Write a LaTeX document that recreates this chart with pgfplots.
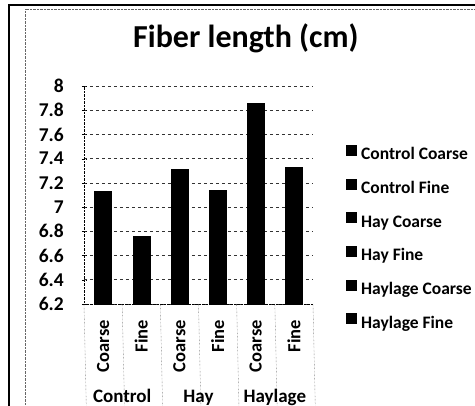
\documentclass[border=0pt]{standalone}
\usepackage{pgfplots}
\pgfplotsset{compat=1.18}
\usepackage{fontspec}
\setmainfont{Carlito}
\begin{document}
\begin{tikzpicture}
\useasboundingbox (0,0) rectangle (475pt,406pt);
\begin{axis}[
  at={(84pt,102pt)}, anchor=south west,
  scale only axis, width=229pt, height=218pt,
  ybar, bar width=17pt, bar shift=0pt,
  xmin=-0.5, xmax=5.5, ymin=6.2, ymax=8,
  clip=false,
  axis x line*=bottom, axis y line*=left,
  axis line style={densely dotted, black, -},
  xtick={0,1,2,3,4,5},
  xticklabels={Coarse,Fine,Coarse,Fine,Coarse,Fine},
  major x tick style={draw=none},
  xticklabel style={font=\bfseries\fontsize{18.5}{20}\selectfont, rotate=90, anchor=east, inner sep=0pt},
  xticklabel shift=14pt,
  ytick={6.2,6.4,6.6,6.8,7,7.2,7.4,7.6,7.8,8},
  yticklabel style={font=\bfseries\fontsize{19.5}{22}\selectfont, inner sep=0pt},
  yticklabel shift=18pt,
  /pgf/number format/assume math mode=true,
  /pgf/number format/fixed,
  tick align=center, major tick length=4pt,
  ytick style={black, densely dotted},
  ymajorgrids, major grid style={dashed, black!80, line width=0.6pt},
  title={Fiber length (cm)},
  title style={at={(axis description cs:0.707,1.151)}, anchor=base, inner sep=0pt, font=\bfseries\fontsize{32}{36}\selectfont},
  legend style={at={(axis description cs:1.143,0.298)}, anchor=west, draw=none, fill=none, inner sep=0pt,
    font=\bfseries\fontsize{17.5}{21}\selectfont, row sep=14pt,
    nodes={text height=13pt, text depth=4pt, inner ysep=1pt, inner xsep=1pt}},
  legend cell align=left,
  sq/.style={fill=black, draw=black, legend image code/.code={\fill[black] (0pt,0pt) rectangle (10pt,10pt); \path[draw=none,fill=none] (0pt,1pt) -- (14pt,1pt);}},
]
\addplot[sq] coordinates {(0,7.13)};
\addplot[sq] coordinates {(1,6.76)};
\addplot[sq] coordinates {(2,7.31)};
\addplot[sq] coordinates {(3,7.14)};
\addplot[sq] coordinates {(4,7.86)};
\addplot[sq] coordinates {(5,7.33)};
\legend{Control Coarse, Control Fine, Hay Coarse, Hay Fine, Haylage Coarse, Haylage Fine}
% category separators
\draw[densely dotted, black!70] (axis cs:0.5,6.2) -- ++(0,-69pt);
\draw[densely dotted, black!70] (axis cs:2.5,6.2) -- ++(0,-69pt);
\draw[densely dotted, black!70] (axis cs:4.5,6.2) -- ++(0,-69pt);
\draw[densely dotted, black!70] (axis cs:-0.5,6.2) -- ++(0,-102pt);
\draw[densely dotted, black!70] (axis cs:1.5,6.2) -- ++(0,-102pt);
\draw[densely dotted, black!70] (axis cs:3.5,6.2) -- ++(0,-102pt);
\draw[densely dotted, black!70] (axis cs:5.5,6.2) -- ++(0,-102pt);
\node[anchor=base, font=\bfseries\fontsize{19}{22}\selectfont] at ([yshift=-98pt]axis cs:0.5,6.2) {Control};
\node[anchor=base, font=\bfseries\fontsize{19}{22}\selectfont] at ([yshift=-98pt]axis cs:2.5,6.2) {Hay};
\node[anchor=base, font=\bfseries\fontsize{19}{22}\selectfont] at ([yshift=-98pt]axis cs:4.5,6.2) {Haylage};
\end{axis}
\draw[line width=2pt] (9pt,0pt) -- (9pt,401pt) -- (475pt,401pt);
\draw[densely dotted, black!60] (25pt,0pt) -- (25pt,397pt) -- (475pt,397pt);
\end{tikzpicture}
\end{document}
